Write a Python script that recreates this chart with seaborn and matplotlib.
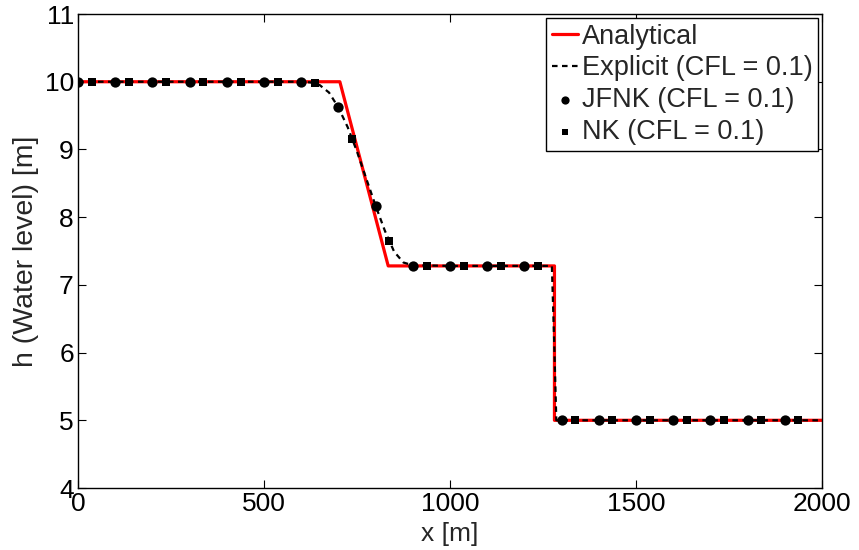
import matplotlib
matplotlib.use("Agg")
import matplotlib.pyplot as plt
import numpy as np
import pandas as pd
import seaborn as sns

# analytical dam-break profile (t = 30 s)
ana_x = [0, 704, 834, 1281, 1281, 2000]
ana_h = [10.0, 10.0, 7.28, 7.28, 5.0, 5.0]

# explicit solution (dashed line)
exp_x = [0, 600, 625, 650, 675, 700, 725, 750, 775, 800, 825, 850, 875, 900,
         1000, 1100, 1200, 1274, 1280, 1286, 1400, 1600, 1800, 2000]
exp_h = [10.0, 10.0, 9.99, 9.95, 9.84, 9.62, 9.33, 8.97, 8.57, 8.17, 7.8, 7.49,
         7.33, 7.29, 7.28, 7.28, 7.28, 7.28, 6.2, 5.0, 5.0, 5.0, 5.0, 5.0]

# JFNK markers
jfnk_x = [0, 100, 200, 300, 400, 500, 600, 700, 800, 900, 1000, 1100, 1200,
          1300, 1400, 1500, 1600, 1700, 1800, 1900]
jfnk_h = [10.0, 10.0, 10.0, 10.0, 10.0, 10.0, 10.0, 9.62, 8.17, 7.28, 7.28,
          7.28, 7.28, 5.0, 5.0, 5.0, 5.0, 5.0, 5.0, 5.0]

# NK markers
nk_x = [37, 137, 237, 337, 437, 537, 637, 737, 837, 937, 1037, 1137, 1237,
        1337, 1437, 1537, 1637, 1737, 1837, 1937]
nk_h = [10.0, 10.0, 10.0, 10.0, 10.0, 10.0, 9.98, 9.16, 7.65, 7.28, 7.28,
        7.28, 7.28, 5.0, 5.0, 5.0, 5.0, 5.0, 5.0, 5.0]

sns.set_theme(style="ticks")
plt.rcParams["font.family"] = ["Liberation Sans", "DejaVu Sans"]

fig = plt.figure(figsize=(8.59, 5.5), dpi=100)
ax = fig.add_axes([0.0908, 0.1127, 0.866, 0.8618])

df_ana = pd.DataFrame({"x": ana_x, "h": ana_h})
df_exp = pd.DataFrame({"x": exp_x, "h": exp_h})
df_jfnk = pd.DataFrame({"x": jfnk_x, "h": jfnk_h})
df_nk = pd.DataFrame({"x": nk_x, "h": nk_h})

sns.lineplot(data=df_ana, x="x", y="h", ax=ax, color="red", linewidth=2.3,
             sort=False, estimator=None, label="Analytical")
sns.lineplot(data=df_exp, x="x", y="h", ax=ax, color="black", linewidth=1.6,
             linestyle=(0, (2.5, 2)), sort=False, estimator=None,
             label="Explicit (CFL = 0.1)")
sns.scatterplot(data=df_jfnk, x="x", y="h", ax=ax, color="black", marker="o",
                s=55, linewidth=0, label="JFNK (CFL = 0.1)", zorder=5)
sns.scatterplot(data=df_nk, x="x", y="h", ax=ax, color="black", marker="s",
                s=30, linewidth=0, label="NK (CFL = 0.1)", zorder=5)

ax.set_xlim(0, 2000)
ax.set_ylim(4, 11)
ax.set_xticks([0, 500, 1000, 1500, 2000])
ax.set_yticks(range(4, 12))
ax.tick_params(direction="in", length=6, width=0.8, top=True, right=True,
               labelsize=19, colors="black", pad=3)
for sp in ax.spines.values():
    sp.set_visible(True)
    sp.set_linewidth(1.0)
    sp.set_color("black")

ax.set_xlabel("x [m]", fontsize=19, labelpad=4)
ax.set_ylabel("h (Water level) [m]", fontsize=20.5, labelpad=4)

leg = ax.legend(loc="upper right", fontsize=19.5, frameon=True, fancybox=False,
                edgecolor="black", framealpha=1, handlelength=0.95,
                handletextpad=0.15, labelspacing=0.22, borderpad=0.2,
                borderaxespad=0.15, markerscale=0.8)
leg.get_frame().set_linewidth(1.0)

fig.savefig("out.png", dpi=100)
